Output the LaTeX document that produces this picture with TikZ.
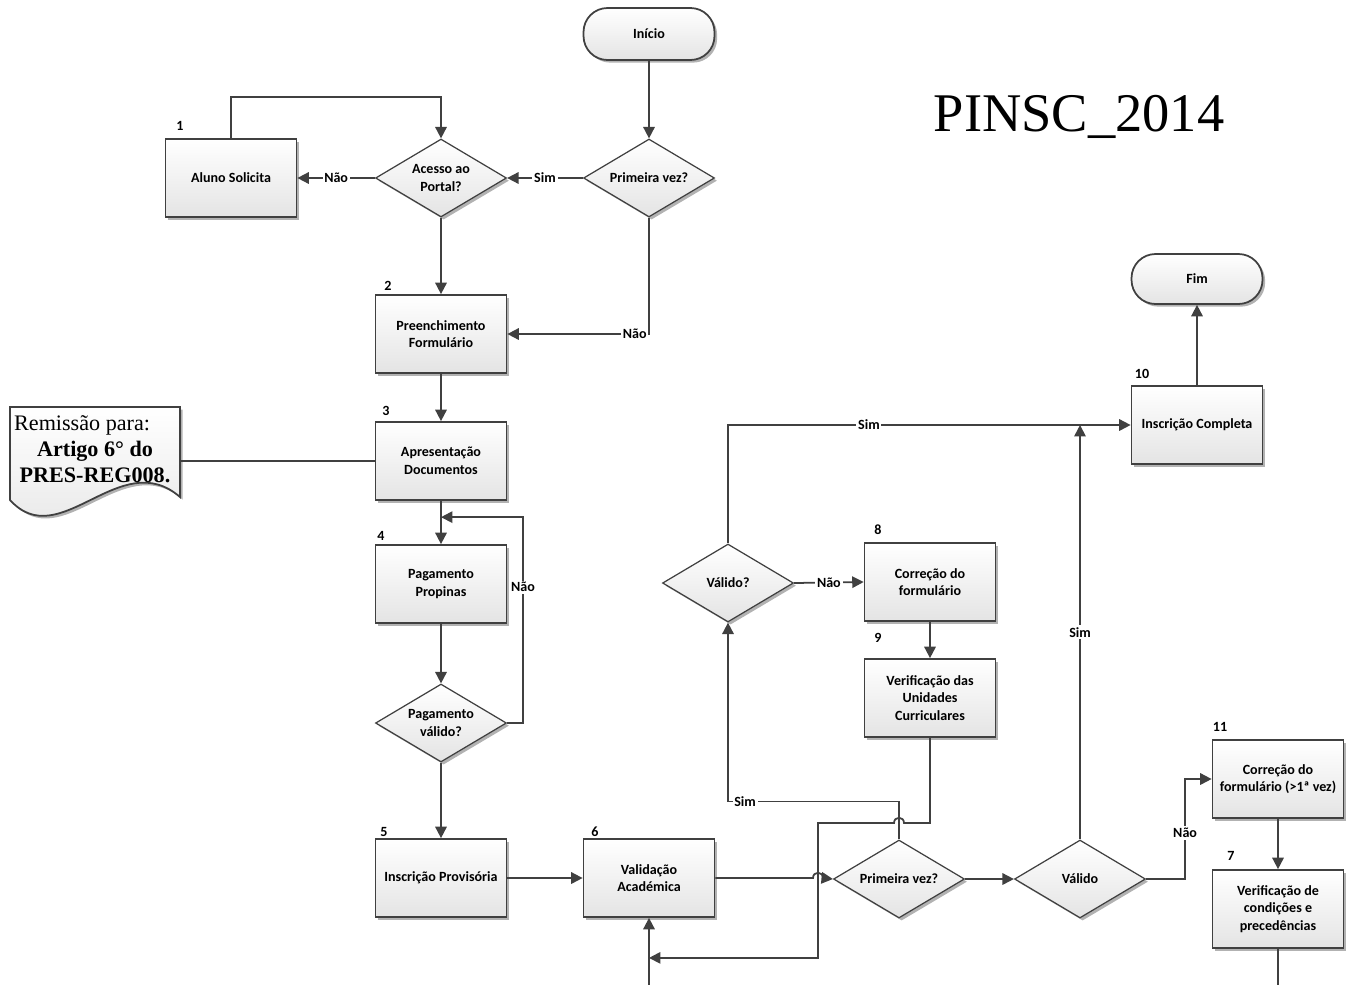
\documentclass[tikz,border=0pt]{standalone}
\usepackage{fontspec}
\setmainfont{Carlito}
\newfontfamily\serifface{Liberation Serif}
\usetikzlibrary{arrows.meta,shapes.geometric,shadows,calc}
\definecolor{linec}{HTML}{404040}
\definecolor{boxbot}{HTML}{E4E4E4}
\newcommand\flowfont{\fontsize{8}{10}\selectfont\bfseries}

\begin{document}
\begin{tikzpicture}[x=0.02cm,y=-0.02cm,
  ln/.style={draw=linec,line width=1pt},
  arr/.style={ln,-{Triangle[length=6.5pt,width=6.5pt]}},
  fillgrad/.style={top color=white,bottom color=boxbot},
  shad/.style={drop shadow={shadow xshift=1.5pt,shadow yshift=-1.5pt,fill=black,opacity=0.3}},
  box/.style={fillgrad,shad,draw=linec,line width=1pt,minimum width=2.62cm,minimum height=1.56cm,
    inner sep=1pt,align=center,font=\flowfont},
  dia/.style={diamond,fillgrad,shad,draw=linec,line width=0.7pt,minimum width=2.62cm,
    minimum height=1.56cm,inner sep=0pt},
  diatext/.style={align=center,font=\flowfont,inner sep=0pt},
  term/.style={rectangle,rounded corners=0.48cm,fillgrad,shad,draw=linec,line width=1pt,
    minimum width=2.62cm,minimum height=1.04cm,font=\flowfont},
  lab/.style={fill=white,inner sep=1pt,font=\flowfont},
  num/.style={font=\flowfont,inner sep=0pt},
]
\useasboundingbox (0,0) rectangle (1354,984);
\fill[white] (0,0) rectangle (1354,984);

% title
\node[font=\serifface\fontsize{31}{36}\selectfont] (title) at (1079,117) {PINSC\_2014};

% reference document with wavy bottom edge
\fill[black,opacity=0.3,xshift=1.5pt,yshift=-1.5pt]
  (10,407) -- (180,407) -- (180,497) .. controls (120,445) and (60,555) .. (10,500) -- cycle;
\path[draw=linec,line width=1pt,fillgrad]
  (10,407) -- (180,407) -- (180,497) .. controls (120,445) and (60,555) .. (10,500) -- cycle;
\node[inner sep=0pt,minimum width=3.4cm,minimum height=1.86cm] (doc) at (95,453.5) {};
\node[font=\serifface\fontsize{12.6}{14.7}\selectfont,align=center,inner sep=0pt] (doctext) at (95,449)
  {\hspace*{-14.7pt}Remissão para:\\\textbf{Artigo 6° do}\\\textbf{PRES-REG008.}};

% terminators
\node[term] (ini) at (649,34) {Início};
\node[term,minimum height=1cm] (fim) at (1197,279) {Fim};

% decisions
\node[dia] (pv1) at (649,178) {};
\node[diatext] at (pv1) {Primeira vez?};
\node[dia] (ap) at (441,178) {};
\node[diatext] at (ap) {Acesso ao\\Portal?};
\node[dia] (pv2) at (441,723) {};
\node[diatext] at (pv2) {Pagamento\\válido?};
\node[dia] (pv3) at (899,879) {};
\node[diatext] at (pv3) {Primeira vez?};
\node[dia] (val) at (1080,879) {};
\node[diatext] at (val) {Válido};
\node[dia] (val2) at (728,583) {};
\node[diatext] at (val2) {Válido?};

% process steps
\node[box] (b1) at (231,178) {Aluno Solicita};
\node[box] (b2) at (441,334) {Preenchimento\\Formulário};
\node[box] (b3) at (441,461) {Apresentação\\Documentos};
\node[box] (b4) at (441,584) {Pagamento\\Propinas};
\node[box] (b5) at (441,878) {Inscrição Provisória};
\node[box] (b6) at (649,878) {Validação\\Académica};
\node[box] (b8) at (930,582) {Correção do\\formulário};
\node[box] (b9) at (930,698) {Verificação das\\Unidades\\Curriculares};
\node[box] (b10) at (1197,425) {Inscrição Completa};
\node[box] (b11) at (1278,779) {Correção do\\formulário (>1ª vez)};
\node[box] (b7) at (1278,909) {Verificação de\\condições e\\precedências};

% step numbers
\node[num] (n1) at (180,126) {1};
\node[num] (n2) at (388,286) {2};
\node[num] (n3) at (386,411) {3};
\node[num] (n4) at (381,536) {4};
\node[num] (n5) at (384,832) {5};
\node[num] (n6) at (595,832) {6};
\node[num] (n8) at (878,530) {8};
\node[num] (n9) at (878,638) {9};
\node[num] (n10) at (1142,374) {10};
\node[num] (n11) at (1220,727) {11};
\node[num] (n7) at (1231,856) {7};

% helper points
\coordinate (loopx) at (818,823);
\coordinate (inb) at ($(b6.south)+(0,40)$);
\coordinate (srcb) at ($(b6.south)+(0,67)$);
\coordinate (outb) at ($(b7.south)+(0,37)$);
\coordinate (jumpa) at (loopx |- b6.east);
\coordinate (jumpb) at (pv3.north |- loopx);

% connectors
\draw[arr] (ini.south) -- (pv1.north);
\draw[arr] (pv1.west) -- node[lab]{Sim} (ap.east);
\draw[arr] (pv1.south) |- node[lab,pos=0.55]{Não} (b2.east);
\draw[arr] (ap.west) -- node[lab]{Não} (b1.east);
\draw[arr] (b1.north) -- ++(0,-41) -| (ap.north);
\draw[arr] (ap.south) -- (b2.north);
\draw[arr] (b2.south) -- (b3.north);
\draw[ln] (doc.east |- b3.west) -- (b3.west);
\draw[arr] (b3.south) -- (b4.north);
\draw[arr] (b4.south) -- (pv2.north);
\draw[arr] (pv2.east) -- ++(16,0) |- node[lab,pos=0.33]{Não} ($(b4.north)+(0,-27)$);
\draw[arr] (pv2.south) -- (b5.north);
\draw[arr] (b5.east) -- (b6.west);
\draw[arr] (srcb) -- (b6.south);
\draw[arr] (b6.east) -- ($(jumpa)+(-5,0)$)
  .. controls ($(jumpa)+(-5,-7)$) and ($(jumpa)+(5,-7)$) .. ($(jumpa)+(5,0)$) -- (pv3.west);
\draw[arr] (pv3.east) -- (val.west);
\draw[arr] (pv3.north) -- ++(0,-38) -| node[lab,pos=0.45]{Sim} (val2.south);
\draw[arr] (b9.south) -- (b9.south |- loopx) -- ($(jumpb)+(5,0)$)
  .. controls ($(jumpb)+(5,-7)$) and ($(jumpb)+(-5,-7)$) .. ($(jumpb)+(-5,0)$)
  -- (loopx) -- (loopx |- inb) -- (inb);
\draw[arr] (val2.east) -- node[lab]{Não} (b8.west);
\draw[arr] (b8.south) -- (b9.north);
\draw[arr] (val2.north) |- node[lab,pos=0.675]{Sim} (b10.west);
\draw[arr] (val.north) -- node[lab]{Sim} (val.north |- b10.west);
\draw[arr] (val.east) -- ++(39,0) |- node[lab,pos=0.23]{Não} (b11.west);
\draw[arr] (b11.south) -- (b7.north);
\draw[ln] (b7.south) -- (outb);
\draw[arr] (b10.north) -- (fim.south);
\end{tikzpicture}
\end{document}
